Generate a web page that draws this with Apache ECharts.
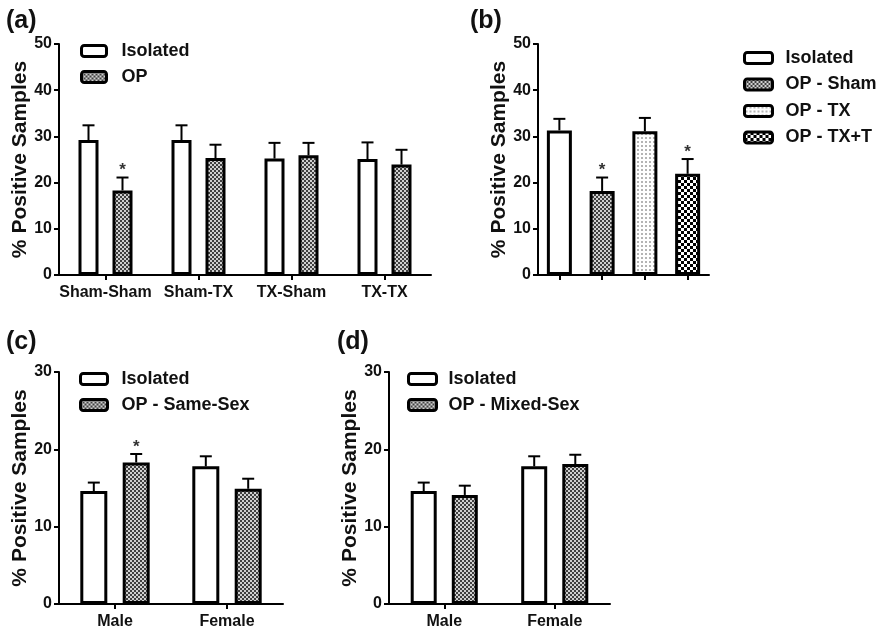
<!DOCTYPE html>
<html>
<head>
<meta charset="utf-8">
<script src="https://cdn.jsdelivr.net/npm/echarts@6/dist/echarts.min.js"></script>
<style>
  html, body { margin: 0; padding: 0; background: #fff; }
  #chart { width: 884px; height: 633px; }
</style>
</head>
<body>
<div id="chart"></div>
<script>
// Panel (a): housing pairings
const catsA = ['Sham-Sham', 'Sham-TX', 'TX-Sham', 'TX-TX'];
const isoA = [29.2, 29.2, 25.2, 25.1];
const isoErrA = [3.2, 3.2, 3.4, 3.6];
const opA = [18.3, 25.3, 25.9, 23.9];
const opErrA = [2.8, 2.9, 2.7, 3.2];
const opSigA = [1, 0, 0, 0];

// Panel (b): treatment groups
const catsB = ['Isolated', 'OP - Sham', 'OP - TX', 'OP - TX+T'];
const valsB = [31.3, 18.2, 31.1, 21.9];
const errB = [2.5, 2.9, 2.9, 3.2];
const sigB = [0, 1, 0, 1];

// Panels (c) and (d): by sex
const catsCD = ['Male', 'Female'];
const isoC = [14.6, 17.8];
const isoErrC = [1.1, 1.3];
const opC = [18.3, 14.9];
const opErrC = [1.1, 1.3];
const opSigC = [1, 0];

const isoD = [14.6, 17.8];
const isoErrD = [1.1, 1.3];
const opD = [14.1, 18.1];
const opErrD = [1.2, 1.2];
const opSigD = [0, 0];

const FONT = 'Liberation Sans, Arial, sans-serif';
const INK = '#111';

function pattern(size, draw) {
  const c = document.createElement('canvas');
  c.width = c.height = size;
  const ctx = c.getContext('2d');
  draw(ctx);
  return { image: c, repeat: 'repeat' };
}
// fine grey checker
const fillOP = pattern(4, ctx => {
  ctx.fillStyle = '#d0d0d0'; ctx.fillRect(0, 0, 4, 4);
  ctx.fillStyle = '#404040'; ctx.fillRect(0, 0, 2, 2); ctx.fillRect(2, 2, 2, 2);
});
// sparse light dots
const fillTX = pattern(4, ctx => {
  ctx.fillStyle = '#ffffff'; ctx.fillRect(0, 0, 4, 4);
  ctx.fillStyle = '#b4b4b4'; ctx.fillRect(1, 1, 2, 2);
});
// coarse black/white checker
const fillTXT = pattern(6, ctx => {
  ctx.fillStyle = '#ffffff'; ctx.fillRect(0, 0, 6, 6);
  ctx.fillStyle = '#000000'; ctx.fillRect(0, 0, 3, 3); ctx.fillRect(3, 3, 3, 3);
});

const BORDER = { borderColor: '#000', borderWidth: 3 };

function yAxis(gi, max) {
  return {
    gridIndex: gi, type: 'value', min: 0, max: max, interval: 10,
    name: '% Positive Samples', nameLocation: 'middle', nameGap: 28,
    nameTextStyle: { fontFamily: FONT, fontWeight: 'bold', fontSize: 21, color: INK },
    axisLine: { show: true, lineStyle: { color: '#000', width: 2 } },
    axisTick: { show: true, length: 5, lineStyle: { color: '#000', width: 2 } },
    axisLabel: { fontFamily: FONT, fontWeight: 'bold', fontSize: 16, color: INK, margin: 7 },
    splitLine: { show: false }
  };
}
function xAxis(gi, cats, showLabels) {
  return {
    gridIndex: gi, type: 'category', data: cats,
    axisLine: { show: true, lineStyle: { color: '#000', width: 2 } },
    axisTick: { show: true, alignWithLabel: true, length: 5, lineStyle: { color: '#000', width: 2 } },
    axisLabel: { show: showLabels, fontFamily: FONT, fontWeight: 'bold', fontSize: 16, color: INK, margin: 10, interval: 0 },
    splitLine: { show: false }
  };
}

// error bar (+SEM) with optional significance star, shifted by dx px from category centre
function errSeries(gi, vals, errs, sig, dx) {
  return {
    type: 'custom', xAxisIndex: gi, yAxisIndex: gi, z: 5, silent: true,
    data: vals.map((v, i) => [i, v, errs[i], sig[i]]),
    renderItem: function (params, api) {
      const base = api.coord([api.value(0), api.value(1)]);
      const top = api.coord([api.value(0), api.value(1) + api.value(2)]);
      const x = base[0] + dx;
      const cap = 6;
      const kids = [
        { type: 'line', shape: { x1: x, y1: base[1], x2: x, y2: top[1] }, style: { stroke: '#000', lineWidth: 2 } },
        { type: 'line', shape: { x1: x - cap, y1: top[1], x2: x + cap, y2: top[1] }, style: { stroke: '#000', lineWidth: 2 } }
      ];
      if (api.value(3)) {
        kids.push({ type: 'text', x: x, y: top[1] - 7,
          style: { text: '*', fill: '#333', font: 'bold 17px ' + FONT, textAlign: 'center', textVerticalAlign: 'middle' } });
      }
      return { type: 'group', children: kids };
    }
  };
}

function barSeries(name, gi, data, fill, width, gap) {
  return {
    name: name, type: 'bar', xAxisIndex: gi, yAxisIndex: gi, data: data,
    barWidth: width, barGap: gap,
    itemStyle: Object.assign({ color: fill }, BORDER)
  };
}

function legend(left, top, names, w, gap, textPad) {
  return {
    orient: 'vertical', left: left, top: top, data: names, selectedMode: false, padding: 0,
    icon: 'roundRect', itemWidth: w, itemHeight: 11, itemGap: gap,
    itemStyle: { borderColor: '#000', borderWidth: 3 },
    textStyle: { fontFamily: FONT, fontWeight: 'bold', fontSize: 18, color: INK, padding: [0, 0, 0, textPad] }
  };
}

const series = [];
// (a)
const bwA = 20, offA = bwA * 1.7 / 2;
series.push(barSeries('Isolated', 0, isoA, '#fff', bwA, '70%'));
series.push(barSeries('OP', 0, opA, fillOP, bwA, '70%'));
series.push(errSeries(0, isoA, isoErrA, isoA.map(() => 0), -offA));
series.push(errSeries(0, opA, opErrA, opSigA, offA));
// (b): one bar per category, overlapped so each sits on its centre
const fillsB = ['#fff', fillOP, fillTX, fillTXT];
catsB.forEach((n, i) => {
  series.push(barSeries(n, 1, valsB.map((v, j) => (j === i ? v : '-')), fillsB[i], 25, '-100%'));
});
series.push(errSeries(1, valsB, errB, sigB, 0));
// (c)
const bwC = 27, offC = bwC * 1.57 / 2;
series.push(barSeries('Isolated', 2, isoC, '#fff', bwC, '57%'));
series.push(barSeries('OP - Same-Sex', 2, opC, fillOP, bwC, '57%'));
series.push(errSeries(2, isoC, isoErrC, [0, 0], -offC));
series.push(errSeries(2, opC, opErrC, opSigC, offC));
// (d)
const bwD = 26, offD = bwD * 1.58 / 2;
series.push(barSeries('Isolated', 3, isoD, '#fff', bwD, '58%'));
series.push(barSeries('OP - Mixed-Sex', 3, opD, fillOP, bwD, '58%'));
series.push(errSeries(3, isoD, isoErrD, [0, 0], -offD));
series.push(errSeries(3, opD, opErrD, opSigD, offD));

const panelLabel = (t, x, y) => ({
  text: t, left: x, top: y, padding: 0,
  textStyle: { fontFamily: FONT, fontWeight: 'bold', fontSize: 25, color: INK }
});

const option = {
  backgroundColor: '#fff',
  animation: false,
  title: [
    panelLabel('(a)', 6, 9),
    panelLabel('(b)', 470, 9),
    panelLabel('(c)', 6, 330),
    panelLabel('(d)', 337, 330)
  ],
  grid: [
    { left: 59, top: 44, width: 372, height: 231 },
    { left: 538, top: 44, width: 171, height: 231 },
    { left: 59, top: 372, width: 224, height: 232 },
    { left: 389, top: 372, width: 221, height: 232 }
  ],
  xAxis: [xAxis(0, catsA, true), xAxis(1, catsB, false), xAxis(2, catsCD, true), xAxis(3, catsCD, true)],
  yAxis: [yAxis(0, 50), yAxis(1, 50), yAxis(2, 30), yAxis(3, 30)],
  legend: [
    legend(80, 42, ['Isolated', 'OP'], 25, 8, 10),
    legend(743, 49, catsB, 28, 8.5, 8),
    legend(79, 370, ['Isolated', 'OP - Same-Sex'], 27, 8, 9),
    legend(407, 370, ['Isolated', 'OP - Mixed-Sex'], 28, 8, 7)
  ],
  series: series
};

const chart = echarts.init(document.getElementById('chart'), null, { renderer: 'canvas' });
chart.setOption(option);
</script>
</body>
</html>
